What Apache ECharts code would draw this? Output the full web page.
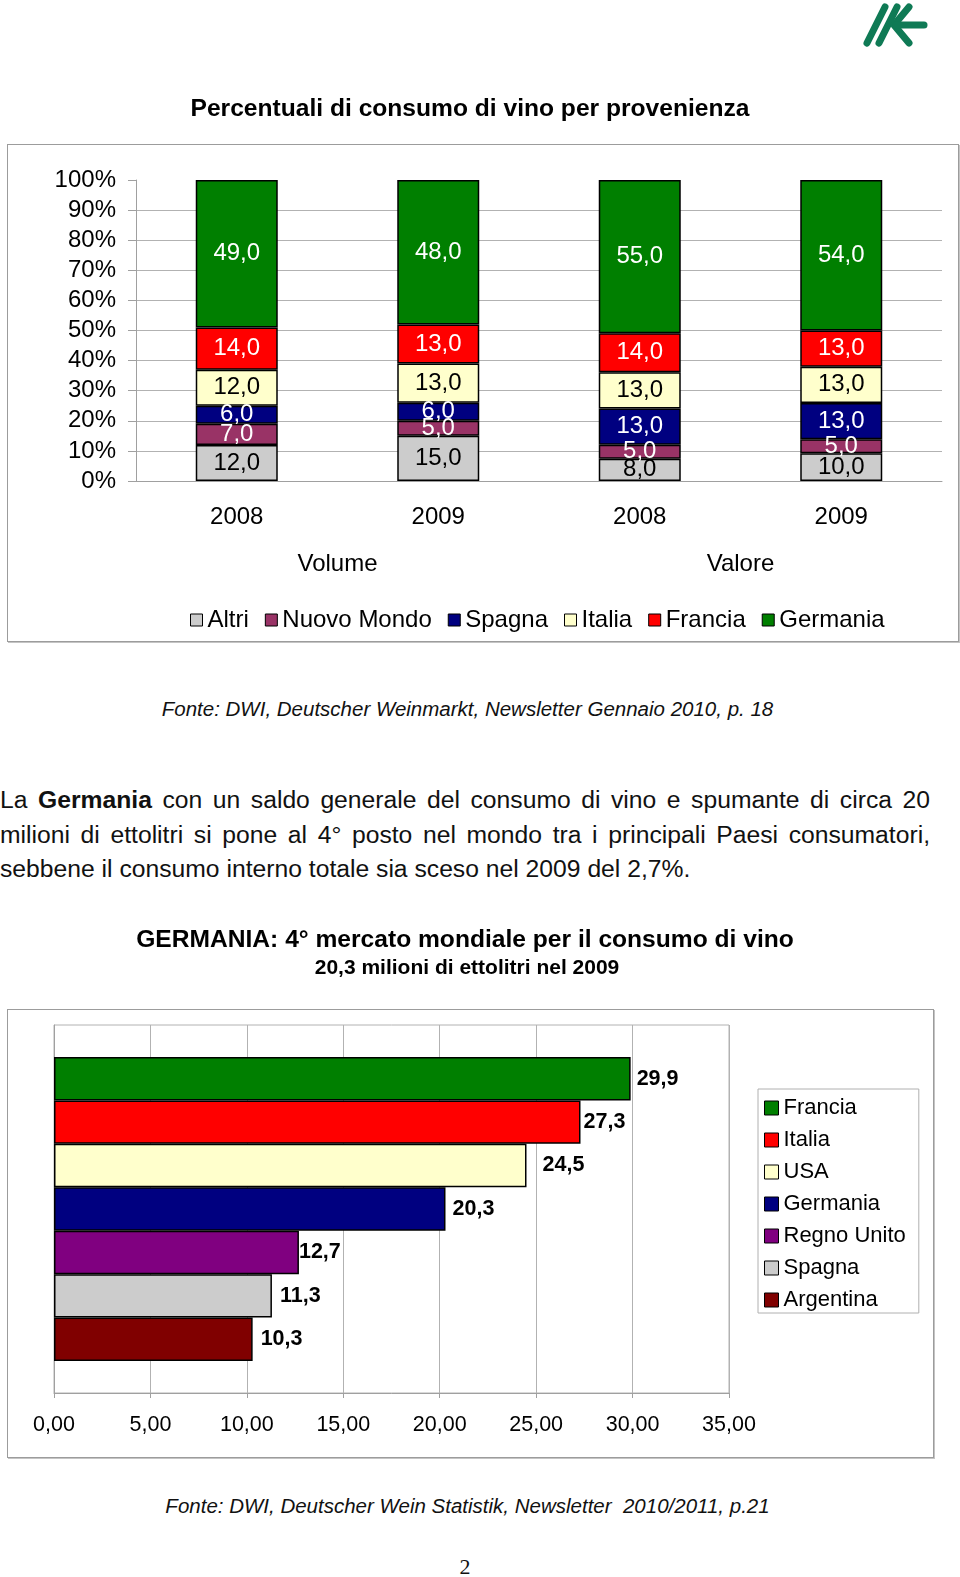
<!DOCTYPE html>
<html>
<head>
<meta charset="utf-8">
<script src="https://cdn.jsdelivr.net/npm/echarts@6/dist/echarts.min.js"></script>
<style>
html, body { margin: 0; padding: 0; background: #fff; }
body { width: 960px; height: 1577px; position: relative; overflow: hidden;
       font-family: "Liberation Sans", Arial, Helvetica, sans-serif; }
.chart { position: absolute; left: 0; width: 960px; z-index: 2; }
.frame { position: absolute; border: 1px solid #9c9c9c; box-shadow: 1px 1px 0 #c4c4c4; z-index: 1; background: #fff; }
.txt { position: absolute; z-index: 3; color: #111; white-space: pre; }
.jline { text-align: justify; text-align-last: justify; white-space: normal; }
</style>
</head>
<body>

<svg style="position:absolute;left:856px;top:0;z-index:3" width="80" height="52" viewBox="850 0 80 52">
  <g fill="none" stroke="#0f7a55" stroke-width="7" stroke-linecap="round" stroke-linejoin="round">
    <line x1="861" y1="43" x2="879" y2="7"/>
    <line x1="873" y1="43" x2="891" y2="7"/>
    <polyline points="903,7 888,25 903,43"/>
    <line x1="890" y1="25" x2="918" y2="25"/>
  </g>
</svg>

<div class="frame" style="left:7px;top:144px;width:950px;height:496px;"></div>
<div class="frame" style="left:7px;top:1009px;width:925px;height:447px;"></div>

<div id="chart1" class="chart" style="top:0;height:660px;"></div>
<div id="chart2" class="chart" style="top:900px;height:560px;"></div>

<div class="txt" style="left:0;width:935px;top:696px;text-align:center;font-style:italic;font-size:20.5px;line-height:26px;">Fonte: DWI, Deutscher Weinmarkt, Newsletter Gennaio 2010, p. 18</div>

<div class="txt jline" style="left:0;width:930px;top:783px;font-size:24.7px;line-height:34.7px;">La <b>Germania</b> con un saldo generale del consumo di vino e spumante di circa 20</div>
<div class="txt jline" style="left:0;width:930px;top:817.7px;font-size:24.7px;line-height:34.7px;">milioni di ettolitri si pone al 4° posto nel mondo tra i principali Paesi consumatori,</div>
<div class="txt" style="left:0;width:930px;top:852.4px;font-size:24.7px;line-height:34.7px;">sebbene il consumo interno totale sia sceso nel 2009 del 2,7%.</div>

<div class="txt" style="left:0;width:935px;top:1493px;text-align:center;font-style:italic;font-size:20.5px;line-height:26px;">Fonte: DWI, Deutscher Wein Statistik, Newsletter  2010/2011, p.21</div>

<div class="txt" style="left:0;width:930px;top:1554px;text-align:center;font-family:'Liberation Serif','Times New Roman',serif;font-size:22px;line-height:26px;">2</div>

<script>
// ---------- Chart 1 data: Percentuali di consumo di vino per provenienza ----------
const yearLabels = ['2008', '2009', '2008', '2009'];
const groupLabels = ['Volume', 'Valore'];
const originNames = ['Altri', 'Nuovo Mondo', 'Spagna', 'Italia', 'Francia', 'Germania'];
const altri      = [12, 15, 8, 10];
const nuovoMondo = [7, 5, 5, 5];
const spagna     = [6, 6, 13, 13];
const italia     = [12, 13, 13, 13];
const francia    = [14, 13, 14, 13];
const germania   = [49, 48, 55, 54];

// ---------- Chart 2 data: GERMANIA 4° mercato mondiale ----------
const countries   = ['Francia', 'Italia', 'USA', 'Germania', 'Regno Unito', 'Spagna', 'Argentina'];
const consumption = [29.9, 27.3, 24.5, 20.3, 12.7, 11.3, 10.3];

// ---------- styles ----------
const FONT = '"Liberation Sans", Arial, Helvetica, sans-serif';
const originColors = ['#cccccc', '#993366', '#000080', '#ffffcc', '#ff0000', '#007f00'];
const originLabelColors = ['#000', '#fff', '#fff', '#000', '#fff', '#fff'];
const countryColors = ['#007f00', '#ff0000', '#ffffcc', '#000080', '#800080', '#cccccc', '#800000'];
const countryLabelDistance = [6, 3, 16, 7, 0, 8, 8];
const GRID_GRAY = '#b2b2b2';

const fmt1 = v => Number(v).toFixed(1).replace('.', ',');
const fmt2 = v => Number(v).toFixed(2).replace('.', ',');

const originValues = [altri, nuovoMondo, spagna, italia, francia, germania];
const totals = yearLabels.map((_, i) => originValues.reduce((s, arr) => s + arr[i], 0));

const chart1 = echarts.init(document.getElementById('chart1'), null, { renderer: 'canvas' });
chart1.setOption({
  animation: false,
  textStyle: { fontFamily: FONT },
  title: {
    text: 'Percentuali di consumo di vino per provenienza',
    left: 470, top: 97, textAlign: 'center', padding: 0,
    textStyle: { fontSize: 24.6, fontWeight: 'bold', color: '#000', fontFamily: FONT }
  },
  legend: {
    data: originNames, left: 190, top: 608, padding: 0,
    icon: 'rect', itemWidth: 12, itemHeight: 12, itemGap: 16,
    itemStyle: { borderColor: '#000', borderWidth: 1 },
    textStyle: { fontSize: 24, color: '#000', fontFamily: FONT },
    selectedMode: false
  },
  grid: { left: 136, top: 180, width: 806, height: 301 },
  xAxis: [
    { type: 'category', data: yearLabels, position: 'bottom',
      axisLine: { lineStyle: { color: '#a0a0a0' } },
      axisTick: { length: 47, lineStyle: { color: '#bdbdbd' } },
      axisLabel: { margin: 24, fontSize: 24, color: '#000', fontFamily: FONT } },
    { type: 'category', data: groupLabels, position: 'bottom',
      axisLine: { show: false },
      axisTick: { length: 94, lineStyle: { color: '#bdbdbd' } },
      axisLabel: { margin: 71, fontSize: 24, color: '#000', fontFamily: FONT } }
  ],
  yAxis: {
    type: 'value', min: 0, max: 100, interval: 10,
    axisLine: { show: true, lineStyle: { color: '#a0a0a0' } },
    axisTick: { show: true, length: 8, lineStyle: { color: '#a0a0a0' } },
    axisLabel: { formatter: '{value}%', margin: 20, fontSize: 24, color: '#000', fontFamily: FONT,
                 padding: [4, 0, 0, 0] },
    splitLine: { show: true, showMaxLine: false, lineStyle: { color: GRID_GRAY } }
  },
  series: originValues.map((vals, k) => ({
    type: 'bar', name: originNames[k], stack: 'pct', xAxisIndex: 0, barWidth: 82,
    data: vals.map((v, i) => v / totals[i] * 100),
    itemStyle: { color: originColors[k], borderColor: '#000', borderWidth: 1.5 },
    label: { show: true, position: 'inside', fontSize: 24, color: originLabelColors[k], fontFamily: FONT,
             formatter: p => fmt1(vals[p.dataIndex]) },
    emphasis: { disabled: true }
  }))
});

const chart2 = echarts.init(document.getElementById('chart2'), null, { renderer: 'canvas' });
chart2.setOption({
  animation: false,
  textStyle: { fontFamily: FONT },
  title: [
    { text: 'GERMANIA: 4° mercato mondiale per il consumo di vino',
      left: 465, top: 28, textAlign: 'center', padding: 0,
      textStyle: { fontSize: 24.6, fontWeight: 'bold', color: '#000', fontFamily: FONT } },
    { text: '20,3 milioni di ettolitri nel 2009',
      left: 467, top: 57.5, textAlign: 'center', padding: 0,
      textStyle: { fontSize: 21, fontWeight: 'bold', color: '#000', fontFamily: FONT } }
  ],
  legend: {
    data: countries, orient: 'vertical', left: 758, top: 189,
    padding: [7, 13, 1, 6], borderColor: '#b0b0b0', borderWidth: 1,
    icon: 'rect', itemWidth: 14, itemHeight: 14, itemGap: 8,
    itemStyle: { borderColor: '#000', borderWidth: 1 },
    textStyle: { fontSize: 22, lineHeight: 24, color: '#000', fontFamily: FONT },
    selectedMode: false
  },
  grid: { left: 54, top: 125, width: 675, height: 368, show: true, borderColor: GRID_GRAY, borderWidth: 1 },
  xAxis: {
    type: 'value', min: 0, max: 35, interval: 5,
    axisLine: { show: true, lineStyle: { color: '#a0a0a0' } },
    axisTick: { show: true, length: 5, lineStyle: { color: '#a0a0a0' } },
    axisLabel: { formatter: v => fmt2(v), margin: 21, fontSize: 21.5, color: '#000', fontFamily: FONT },
    splitLine: { show: true, lineStyle: { color: GRID_GRAY } }
  },
  yAxis: {
    type: 'category', data: [''],
    axisLine: { show: true, lineStyle: { color: '#a0a0a0' } },
    axisTick: { show: false }, axisLabel: { show: false }
  },
  series: countries.map((c, k) => ({
    type: 'bar', name: c, data: [consumption[k]],
    barGap: '0%', barCategoryGap: '17.4%',
    itemStyle: { color: countryColors[k], borderColor: '#000', borderWidth: 1.5 },
    label: { show: true, position: 'right', distance: countryLabelDistance[k],
             fontSize: 21.5, fontWeight: 'bold', color: '#000', fontFamily: FONT,
             formatter: p => fmt1(p.value) },
    emphasis: { disabled: true }
  }))
});
</script>
</body>
</html>
